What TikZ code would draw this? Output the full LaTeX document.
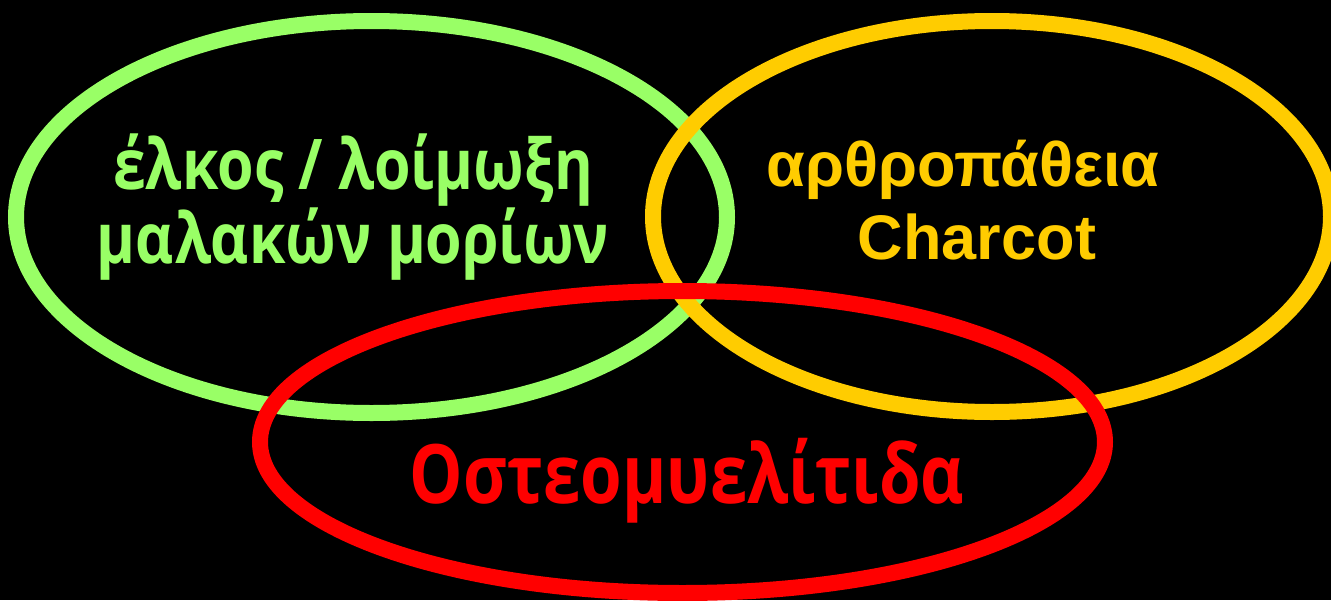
\documentclass[tikz,border=0pt]{standalone}
\usepackage{fontspec}
\setmainfont{Liberation Sans}
\newfontfamily\osfont{Open Sans}
\definecolor{cgreen}{HTML}{99FF66}
\definecolor{corange}{HTML}{FFCC00}
\definecolor{cred}{HTML}{FF0000}
\begin{document}
\begin{tikzpicture}[x=1pt,y=1pt,
  ring/.style={line width=16pt},
  lbl/.style={align=center, inner sep=0pt, font=\bfseries}]
\fill[black] (0,0) rectangle (1331,-600);
\useasboundingbox (0,0) rectangle (1331,-600);
\begin{scope}
\clip (0,0) rectangle (1331,-600);
\draw[ring, cgreen] (371.5,-217) ellipse [x radius=355.5pt, y radius=196pt];
\draw[ring, corange] (992,-216.5) ellipse [x radius=339pt, y radius=195.5pt];
\draw[ring, cred] (682.5,-442) ellipse [x radius=422.5pt, y radius=151pt];
\end{scope}
\node[lbl, text=cgreen, xscale=0.843, transform shape, font=\osfont\bfseries\fontsize{70}{74}\selectfont] (ulcer) at (353,-207) {έλκος / λοίμωξη\\μαλακών μορίων};
\node[lbl, text=corange, font=\bfseries\fontsize{63}{73}\selectfont] (charcot) at (963,-200) {αρθροπάθεια\\\hspace*{28pt}Charcot};
\node[lbl, text=cred, xscale=0.82, transform shape, font=\osfont\bfseries\fontsize{82}{90}\selectfont] (osteo) at (687,-481) {Οστεομυελίτιδα};
\end{tikzpicture}
\end{document}
